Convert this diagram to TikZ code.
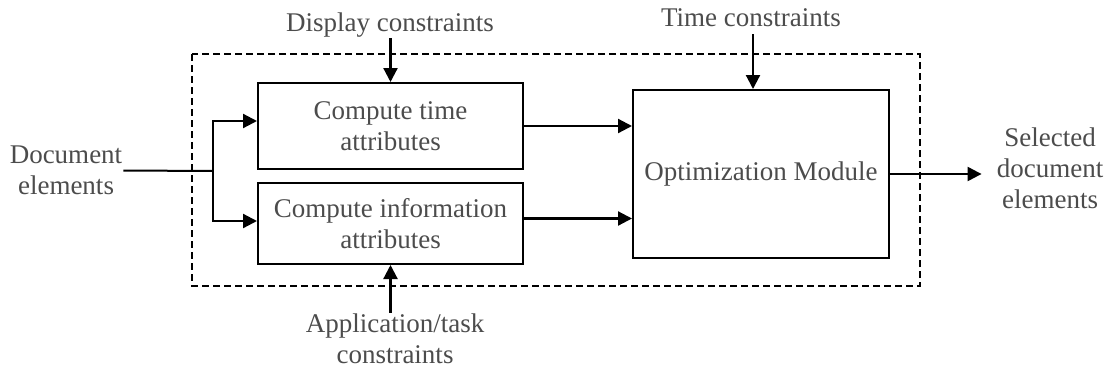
\documentclass[tikz,border=0pt]{standalone}
\usepackage{fontspec}
\setmainfont{Liberation Serif}
\usetikzlibrary{arrows.meta}

\begin{document}
\begin{tikzpicture}[x=1pt, y=-1pt,
  every node/.style={font=\fontsize{27}{31}\selectfont, text=black!70},
  blk/.style={draw=black, line width=2pt, align=center, inner sep=0pt},
  lbl/.style={align=center, inner sep=1pt},
  link/.style={line width=2pt},
  flow/.style={line width=2.2pt, -{Triangle[length=14pt,width=14pt]}}]

\useasboundingbox (0,0) rectangle (1110,370);

% dashed frame round the whole system
\draw [line width=1.7pt, dash pattern=on 7pt off 4pt] (192,54) rectangle (920,286);

\node [blk, minimum width=265, minimum height=86] (timeattr) at (390.5,126) {Compute time\\attributes};
\node [blk, minimum width=265, minimum height=81] (infoattr) at (390.5,223.5) {Compute information\\attributes};
\node [blk, minimum width=256, minimum height=168] (optmod) at (761,174) {Optimization Module};

\node [lbl] (doc) at (66,170.5) {Document\\elements};
\node [lbl] (display) at (390,25) {Display constraints};
\node [lbl] (timec) at (751,18) {Time constraints};
\node [lbl] (app) at (395,339) {Application/task\\constraints};
\node [lbl] (sel) at (1050,168) {Selected\\document\\elements};

\coordinate (split) at (213,171);

\draw [link] (doc.east) -- (split);
\draw [flow] (split) |- ([yshift=5pt]timeattr.west);
\draw [flow] (split) |- ([yshift=2.5pt]infoattr.west);

\draw [flow] (display.south -| timeattr.north) -- (timeattr.north);
\draw [flow] (app.north -| infoattr.south) -- (infoattr.south);
\draw [flow, shorten <=6pt] ([xshift=2pt]timec.south) -- ([xshift=2pt]timec.south |- optmod.north);

\draw [flow] (timeattr.east) -- (timeattr.east -| optmod.west);
\draw [flow] ([yshift=5pt]infoattr.east) -- ([yshift=5pt]infoattr.east -| optmod.west);
\draw [flow] (optmod.east) -- ([xshift=-14pt]sel.west |- optmod.east);

\end{tikzpicture}
\end{document}
